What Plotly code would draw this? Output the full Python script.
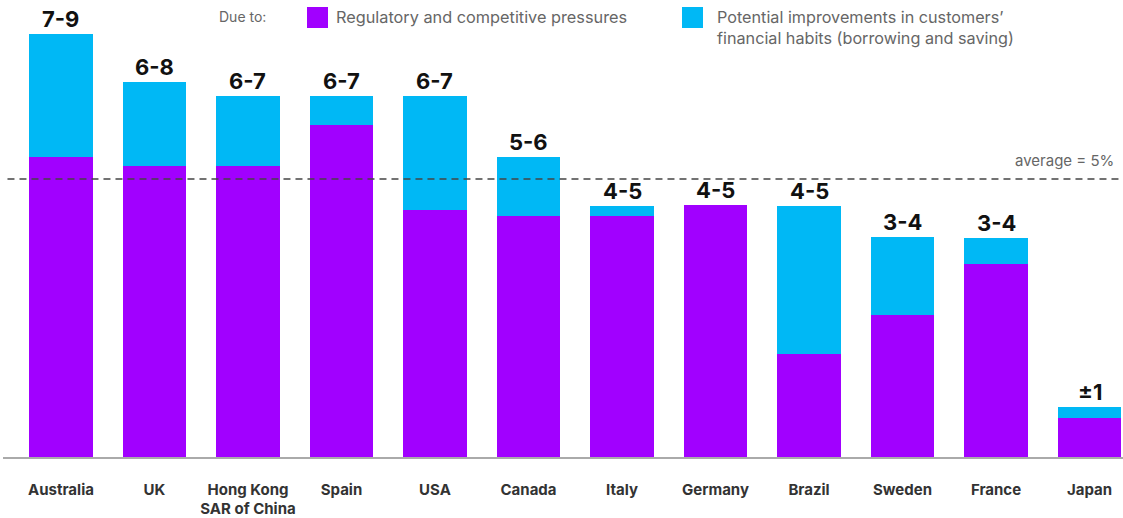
import plotly.graph_objects as go

countries = ["Australia", "UK", "Hong Kong<br>SAR of China", "Spain", "USA", "Canada",
             "Italy", "Germany", "Brazil", "Sweden", "France", "Japan"]
regulatory = [5.40, 5.23, 5.23, 5.97, 4.44, 4.33, 4.33, 4.53, 1.85, 2.55, 3.47, 0.70]
habits = [2.21, 1.51, 1.26, 0.52, 2.05, 1.07, 0.18, 0.00, 2.66, 1.41, 0.47, 0.20]
range_labels = ["7-9", "6-8", "6-7", "6-7", "6-7", "5-6", "4-5", "4-5", "4-5", "3-4", "3-4", "±1"]
average = 5

PURPLE = "#A100FF"
CYAN = "#00B8F5"
FONT = "Inter, Roboto, Arial, sans-serif"

fig = go.Figure()
fig.add_trace(go.Bar(x=countries, y=regulatory, marker=dict(color=PURPLE, line_width=0),
                     width=0.675, name="Regulatory and competitive pressures"))
fig.add_trace(go.Bar(x=countries, y=habits, marker=dict(color=CYAN, line_width=0),
                     width=0.675, name="Potential improvements"))

totals = [r + h for r, h in zip(regulatory, habits)]
for c, t, lab in zip(countries, totals, range_labels):
    fig.add_annotation(x=c, y=t, text=f"<b>{lab}</b>", showarrow=False, yanchor="bottom",
                       yshift=0, font=dict(family=FONT, size=22, color="#111"))

fig.add_shape(type="line", xref="paper", yref="y", x0=0.004, x1=0.996, y0=average, y1=average,
              line=dict(color="#444", width=1.3, dash="7px,5px"), layer="above")

# page-pixel helpers
def px_x(p):
    return (p - 3) / 1120

def px_y(p):
    return (457 - p) / 457

fig.add_annotation(xref="paper", yref="paper", x=px_x(1116), y=px_y(160), text="average = 5%",
                   showarrow=False, xanchor="right", yanchor="middle",
                   font=dict(family=FONT, size=15, color="#666"))

fig.add_annotation(xref="paper", yref="paper", x=px_x(217), y=px_y(17), text="Due to:",
                   showarrow=False, xanchor="left", yanchor="middle",
                   font=dict(family=FONT, size=14, color="#666"))
fig.add_shape(type="rect", xref="paper", yref="paper", x0=px_x(307), x1=px_x(328),
              y0=px_y(28), y1=px_y(7), fillcolor=PURPLE, line_width=0)
fig.add_annotation(xref="paper", yref="paper", x=px_x(334), y=px_y(17),
                   text="Regulatory and competitive pressures",
                   showarrow=False, xanchor="left", yanchor="middle",
                   font=dict(family=FONT, size=16.3, color="#666"))
fig.add_shape(type="rect", xref="paper", yref="paper", x0=px_x(682), x1=px_x(703),
              y0=px_y(28), y1=px_y(7), fillcolor=CYAN, line_width=0)
fig.add_annotation(xref="paper", yref="paper", x=px_x(715), y=px_y(27),
                   text="Potential improvements in customers’<br>financial habits (borrowing and saving)",
                   showarrow=False, xanchor="left", yanchor="middle", align="left",
                   font=dict(family=FONT, size=16.2, color="#666"))

fig.update_layout(
    barmode="stack",
    width=1123, height=518,
    margin=dict(l=3, r=0, t=0, b=61, autoexpand=False),
    plot_bgcolor="white", paper_bgcolor="white",
    showlegend=False,
    xaxis=dict(range=[-0.62, 11.358], showline=True, linecolor="#aaa", linewidth=1.5,
               ticks="", tickfont=dict(family=FONT, size=15, color="#333"),
               ticklabelstandoff=18, showgrid=False, fixedrange=True, automargin=False,
               tickvals=countries, ticktext=[f"<b>{c}</b>" for c in countries]),
    yaxis=dict(range=[0, 8.22], visible=False, showgrid=False, fixedrange=True,
               automargin=False),
)

fig.write_html("out.html", config={"displayModeBar": False},
               post_script="document.body.style.margin='0';document.body.style.overflow='hidden';")
